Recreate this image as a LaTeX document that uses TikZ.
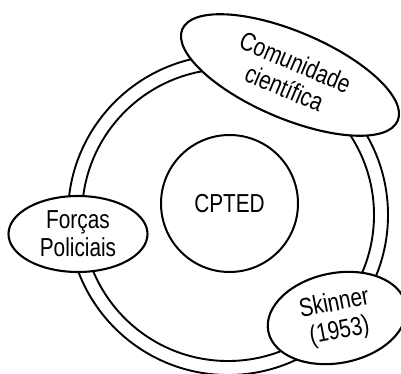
\documentclass[tikz,border=0pt]{standalone}
\usepackage{fontspec}
\setmainfont{Liberation Sans}[FakeStretch=0.8, Ligatures=NoCommon]
\usetikzlibrary{shapes.geometric}
\begin{document}
\begin{tikzpicture}[x=1pt,y=-1pt,
  ringline/.style={draw, circle, line width=1.9pt, inner sep=0pt},
  labelfont/.style={font=\fontsize{26}{28}\selectfont},
  bubble/.style={draw, fill=white, ellipse, line width=2.1pt, inner sep=0pt,
    align=center, labelfont},
  core/.style={draw, fill=white, circle, line width=2pt, minimum size=137pt,
    inner sep=0pt, labelfont}]
\useasboundingbox (0,0) rectangle (401,374);
\clip (0,0) rectangle (401,374);
% double ring around the core
\node[ringline, minimum size=320pt] (outerring) at (228,215) {};
\node[ringline, minimum size=292pt] (innerring) at (228,215) {};
% central concept
\node[core] (cpted) at (229.5,203.5) {CPTED};
% surrounding actors
\node[bubble, minimum width=234pt, minimum height=87pt, rotate=-23]
  (ciencia) at (290,75) {Comunidade\\científica};
\node[bubble, minimum width=139pt, minimum height=76pt]
  (policia) at (78,234) {Forças\\Policiais};
\node[bubble, minimum width=140pt, minimum height=90pt, rotate=11]
  (skinner) at (337,318) {Skinner\\(1953)};
\end{tikzpicture}
\end{document}
